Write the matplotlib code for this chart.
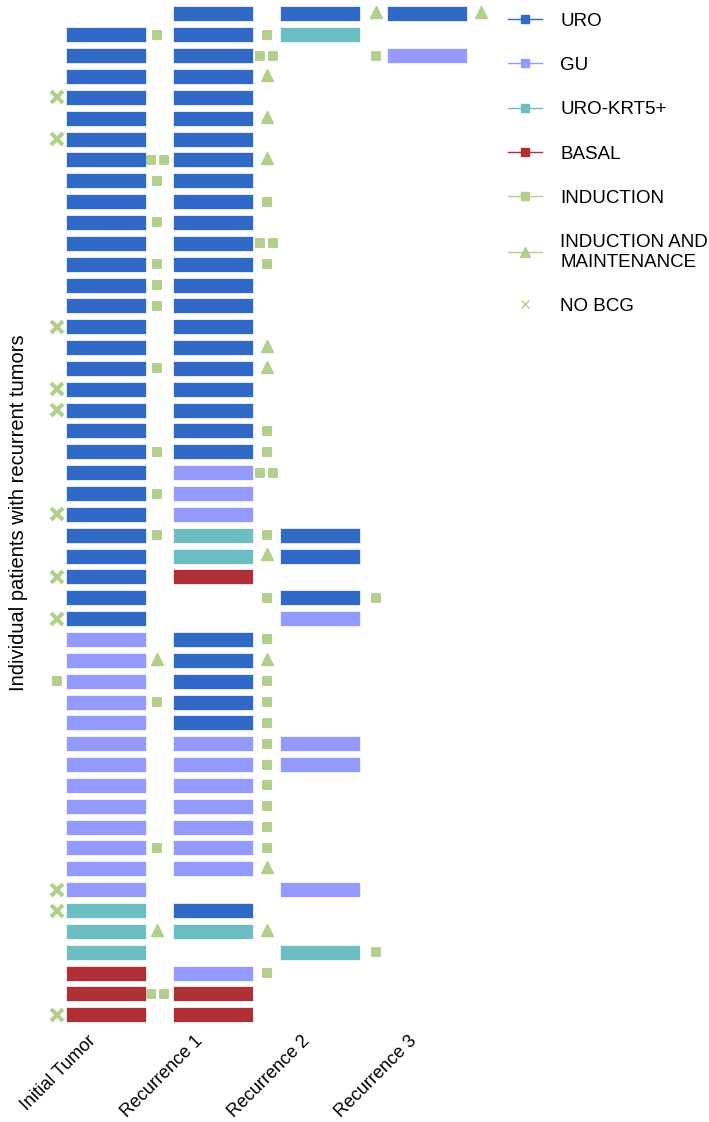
import matplotlib
matplotlib.use("Agg")
import matplotlib.pyplot as plt
import matplotlib.transforms as mtransforms
from matplotlib.lines import Line2D
from matplotlib.markers import MarkerStyle

plt.rcParams['font.family'] = ['Liberation Sans', 'DejaVu Sans']

stages = ["Initial Tumor", "Recurrence 1", "Recurrence 2", "Recurrence 3"]

# subtype of each sample, one entry per patient from top to bottom ('' = no sample)
initial = [''] + ['URO'] * 29 + ['GU'] * 13 + ['URO-KRT5+'] * 3 + ['BASAL'] * 3
recurrence1 = (['URO'] * 22 + ['GU'] * 3 + ['URO-KRT5+'] * 2 + ['BASAL'] + [''] * 2
               + ['URO'] * 5 + ['GU'] * 7
               + ['', 'URO', 'URO-KRT5+', '', 'GU', 'BASAL', 'BASAL'])
recurrence2 = (['URO', 'URO-KRT5+'] + [''] * 23 + ['URO', 'URO', '', 'URO', 'GU']
               + [''] * 5 + ['GU', 'GU'] + [''] * 5 + ['GU', '', '', 'URO-KRT5+'] + [''] * 3)
recurrence3 = ['URO', '', 'GU'] + [''] * 46

# BCG given per patient: (slot, kind); slot 0 = before initial tumor,
# slot k = after stage k-1. S = induction, SS = two inductions,
# T = induction and maintenance, X = no BCG
bcg = [
    [(3, 'T'), (4, 'T')], [(1, 'S'), (2, 'S')], [(2, 'SS'), (3, 'S')], [(2, 'T')],
    [(0, 'X')], [(2, 'T')], [(0, 'X')], [(1, 'SS'), (2, 'T')],
    [(1, 'S')], [(2, 'S')], [(1, 'S')], [(2, 'SS')],
    [(1, 'S'), (2, 'S')], [(1, 'S')], [(1, 'S')], [(0, 'X')],
    [(2, 'T')], [(1, 'S'), (2, 'T')], [(0, 'X')], [(0, 'X')],
    [(2, 'S')], [(1, 'S'), (2, 'S')], [(2, 'SS')], [(1, 'S')],
    [(0, 'X')], [(1, 'S'), (2, 'S')], [(2, 'T')], [(0, 'X')],
    [(2, 'S'), (3, 'S')], [(0, 'X')], [(2, 'S')], [(1, 'T'), (2, 'T')],
    [(0, 'S'), (2, 'S')], [(1, 'S'), (2, 'S')], [(2, 'S')], [(2, 'S')],
    [(2, 'S')], [(2, 'S')], [(2, 'S')], [(2, 'S')],
    [(1, 'S'), (2, 'S')], [(2, 'T')], [(0, 'X')], [(0, 'X')],
    [(1, 'T'), (2, 'T')], [(3, 'S')], [(2, 'S')], [(1, 'SS')],
    [(0, 'X')],
]

subtypes = ['URO', 'GU', 'URO-KRT5+', 'BASAL']
colors = {'URO': '#3169C6', 'GU': '#959BFC', 'URO-KRT5+': '#6CBEC2', 'BASAL': '#AE2F36'}
green = '#B3CF8B'

fig = plt.figure(figsize=(7.09, 11.22), dpi=100)
W, H = 709, 1122
ax = fig.add_axes([40 / W, (H - 1025) / H, 460 / W, 1025 / H])

for j, col in enumerate([initial, recurrence1, recurrence2, recurrence3]):
    for st in subtypes:
        rows = [i for i, s in enumerate(col) if s == st]
        if rows:
            ax.barh(rows, 0.75, left=j - 0.375, height=0.72, color=colors[st],
                    edgecolor='white', linewidth=0.5)

slot_x = [-0.46, 0.48, 1.5, 2.52, 3.5]
sq = MarkerStyle('s', joinstyle='round')
tri = MarkerStyle('^', joinstyle='round')
for i, items in enumerate(bcg):
    for slot, kind in items:
        x = slot_x[slot]
        if kind == 'S':
            ax.plot(x, i, marker=sq, ms=6.4, mew=1.4, color=green, zorder=3)
        elif kind == 'SS':
            ax.plot([x - 0.058, x + 0.058], [i, i], ls='none', marker=sq, ms=6.0, mew=1.4,
                    color=green, zorder=3)
        elif kind == 'T':
            ax.plot(x, i - 0.08, marker=tri, ms=8.6, mew=1.0, color=green, zorder=3)
        elif kind == 'X':
            ax.plot(x, i, marker='x', ms=8.5, mew=3.0, color=green, zorder=3)

ax.set_xlim(-0.617, 3.682)
ax.set_ylim(48.49, -0.671)
for s in ax.spines.values():
    s.set_visible(False)
ax.set_yticks([])
ax.set_xticks(range(len(stages)))
ax.set_xticklabels(stages, rotation=45, ha='right', va='top', rotation_mode='anchor',
                   fontsize=13)
ax.tick_params(axis='x', length=0, pad=5)
shift = mtransforms.ScaledTranslation(-19 / 100, 0, fig.dpi_scale_trans)
for lab in ax.get_xticklabels():
    lab.set_transform(lab.get_transform() + shift)

ax.set_ylabel("Individual patients with recurrent tumors", fontsize=14.5)
ax.yaxis.set_label_coords(-0.026, 0.5)

handles = [Line2D([], [], color=colors[st], lw=1, marker='s', ms=5.5) for st in subtypes]
handles.append(Line2D([], [], color=green, lw=1, marker='s', ms=5.5))
handles.append(Line2D([], [], color=green, lw=1, marker='^', ms=6.5))
handles.append(Line2D([], [], color=green, lw=0, marker='x', ms=6, mew=1))
labels = subtypes + ['INDUCTION', 'INDUCTION AND\nMAINTENANCE', 'NO BCG']
fig.legend(handles, labels, loc='upper left', bbox_to_anchor=(500 / W, 1 - 5 / H),
           frameon=False, fontsize=13.5, handlelength=1.85, handletextpad=0.95,
           labelspacing=1.45, borderaxespad=0)

fig.savefig("out.png", dpi=100)
